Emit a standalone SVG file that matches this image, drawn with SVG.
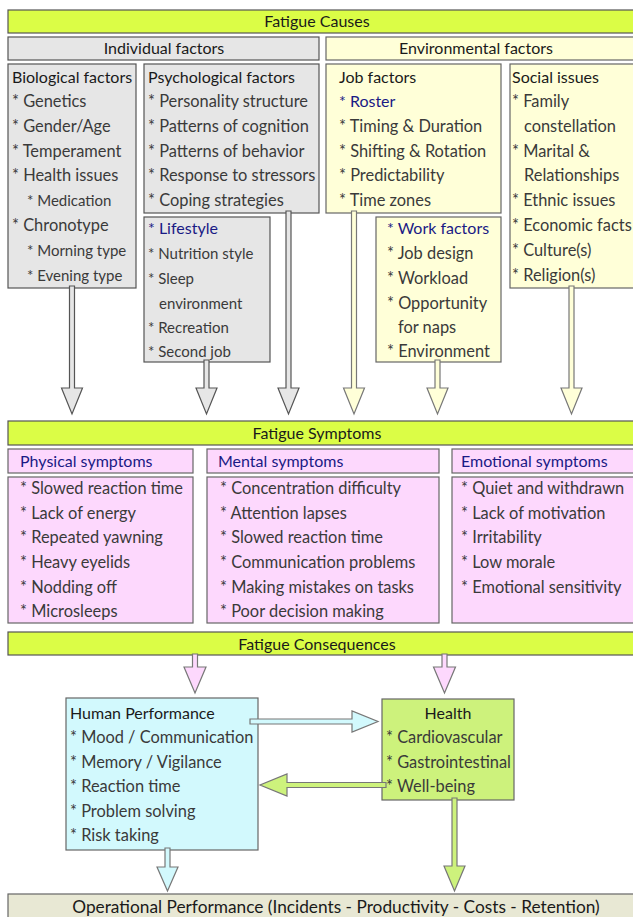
<svg xmlns="http://www.w3.org/2000/svg" width="633" height="917" viewBox="0 0 633 917">
<style>
text{font-family:"Lato","Open Sans",sans-serif;font-size:16.4px;fill:#3a3a3a}
.t{fill:#1a1a1a;font-size:16px}
.c{text-anchor:middle;fill:#1a1a1a;font-size:16px}
.s{font-size:15px}
.b{fill:#1a1a85;font-size:16px}
.op{font-size:17.3px}
.bar{fill:#dbfd46;stroke:#555;stroke-width:1.2}
.gray{fill:#e6e6e6;stroke:#555;stroke-width:1.2}
.yel{fill:#ffffd8;stroke:#666;stroke-width:1.2}
.pink{fill:#fdd8fd;stroke:#666;stroke-width:1.2}
.cyan{fill:#d2f9fd;stroke:#666;stroke-width:1.2}
.green{fill:#cdf27c;stroke:#666;stroke-width:1.2}
.beige{fill:#e8e8d4;stroke:#666;stroke-width:1.2}
.ag{fill:#e6e6e6;stroke:#555;stroke-width:1.2}
.ay{fill:#ffffd8;stroke:#777;stroke-width:1.2}
.ap{fill:#fdd8fd;stroke:#777;stroke-width:1.2}
.ac{fill:#d2f9fd;stroke:#777;stroke-width:1.2}
.an{fill:#cdf27c;stroke:#777;stroke-width:1.2}
</style>
<rect width="633" height="917" fill="#fff"/>

<g id="fatigue-causes">
<rect class="bar" x="8" y="10" width="640" height="23"/>
<text class="c" x="317" y="27">Fatigue Causes</text>
</g>
<g id="individual-factors">
<rect class="gray" x="8" y="37" width="311" height="23"/>
<text class="c" x="164" y="54">Individual factors</text>
</g>
<g id="environmental-factors">
<rect class="yel" x="326" y="37" width="320" height="23"/>
<text class="c" x="476" y="54">Environmental factors</text>
</g>

<g id="biological-factors">
<rect class="gray" x="8" y="64" width="128" height="224"/>
<text class="t" x="12" y="83">Biological factors</text>
<text x="12" y="107">* Genetics</text>
<text x="12" y="132">* Gender/Age</text>
<text x="12" y="157">* Temperament</text>
<text x="12" y="181">* Health issues</text>
<text class="s" x="27" y="206">* Medication</text>
<text x="12" y="231">* Chronotype</text>
<text class="s" x="27" y="256">* Morning type</text>
<text class="s" x="27" y="281">* Evening type</text>
</g>

<g id="psychological-factors">
<rect class="gray" x="144" y="64" width="175" height="149"/>
<text class="t" x="148" y="83">Psychological factors</text>
<text x="148" y="107">* Personality structure</text>
<text x="148" y="132">* Patterns of cognition</text>
<text x="148" y="157">* Patterns of behavior</text>
<text x="148" y="181">* Response to stressors</text>
<text x="148" y="206">* Coping strategies</text>
</g>

<g id="lifestyle">
<rect class="gray" x="144" y="217" width="126" height="145"/>
<text class="b" x="148" y="234">* Lifestyle</text>
<text class="s" x="148" y="259">* Nutrition style</text>
<text class="s" x="148" y="284">* Sleep</text>
<text class="s" x="159" y="309">environment</text>
<text class="s" x="148" y="333">* Recreation</text>
<text class="s" x="148" y="357">* Second job</text>
</g>

<g id="job-factors">
<rect class="yel" x="326" y="64" width="175" height="149"/>
<text class="t" x="339" y="83">Job factors</text>
<text class="b" x="339" y="107">* Roster</text>
<text x="339" y="132">* Timing &amp; Duration</text>
<text x="339" y="157">* Shifting &amp; Rotation</text>
<text x="339" y="181">* Predictability</text>
<text x="339" y="206">* Time zones</text>
</g>

<g id="work-factors">
<rect class="yel" x="376" y="217" width="125" height="145"/>
<text class="b" x="387" y="234">* Work factors</text>
<text x="387" y="259">* Job design</text>
<text x="387" y="284">* Workload</text>
<text x="387" y="309">* Opportunity</text>
<text x="398" y="333">for naps</text>
<text x="387" y="357">* Environment</text>
</g>

<g id="social-issues">
<rect class="yel" x="510" y="64" width="140" height="224"/>
<text class="t" x="512" y="83">Social issues</text>
<text x="512" y="107">* Family</text>
<text x="524" y="132">constellation</text>
<text x="512" y="157">* Marital &amp;</text>
<text x="524" y="181">Relationships</text>
<text x="512" y="206">* Ethnic issues</text>
<text x="512" y="231">* Economic facts</text>
<text x="512" y="256">* Culture(s)</text>
<text x="512" y="281">* Religion(s)</text>
</g>

<g id="fatigue-symptoms">
<rect class="bar" x="8" y="421" width="640" height="24"/>
<text class="c" x="317" y="439">Fatigue Symptoms</text>
</g>

<g id="physical-symptoms">
<rect class="pink" x="8" y="449" width="185" height="24"/>
<text class="b" x="20" y="467">Physical symptoms</text>
<rect class="pink" x="8" y="477" width="185" height="146"/>
<text x="20" y="494">* Slowed reaction time</text>
<text x="20" y="519">* Lack of energy</text>
<text x="20" y="543">* Repeated yawning</text>
<text x="20" y="568">* Heavy eyelids</text>
<text x="20" y="593">* Nodding off</text>
<text x="20" y="617">* Microsleeps</text>
</g>

<g id="mental-symptoms">
<rect class="pink" x="207" y="449" width="232" height="24"/>
<text class="b" x="218" y="467">Mental symptoms</text>
<rect class="pink" x="207" y="477" width="232" height="146"/>
<text x="220" y="494">* Concentration difficulty</text>
<text x="220" y="519">* Attention lapses</text>
<text x="220" y="543">* Slowed reaction time</text>
<text x="220" y="568">* Communication problems</text>
<text x="220" y="593">* Making mistakes on tasks</text>
<text x="220" y="617">* Poor decision making</text>
</g>

<g id="emotional-symptoms">
<rect class="pink" x="452" y="449" width="196" height="24"/>
<text class="b" x="461" y="467">Emotional symptoms</text>
<rect class="pink" x="452" y="477" width="196" height="146"/>
<text x="461" y="494">* Quiet and withdrawn</text>
<text x="461" y="519">* Lack of motivation</text>
<text x="461" y="543">* Irritability</text>
<text x="461" y="568">* Low morale</text>
<text x="461" y="593">* Emotional sensitivity</text>
</g>

<g id="fatigue-consequences">
<rect class="bar" x="8" y="632" width="640" height="23"/>
<text class="c" x="317" y="650">Fatigue Consequences</text>
</g>

<g id="human-performance">
<rect class="cyan" x="66" y="698" width="192" height="152"/>
<text class="t" x="70" y="719">Human Performance</text>
<text x="70" y="743">* Mood / Communication</text>
<text x="70" y="768">* Memory / Vigilance</text>
<text x="70" y="792">* Reaction time</text>
<text x="70" y="817">* Problem solving</text>
<text x="70" y="841">* Risk taking</text>
</g>

<g id="health">
<rect class="green" x="382" y="699" width="132" height="101"/>
<text class="c" x="448" y="719">Health</text>
<text x="386" y="743">* Cardiovascular</text>
<text x="386" y="768">* Gastrointestinal</text>
<text x="386" y="792">* Well-being</text>
</g>

<g id="operational-performance">
<rect class="beige" x="8" y="894" width="640" height="30"/>
<text class="c op" x="336" y="913">Operational Performance (Incidents - Productivity - Costs - Retention)</text>
</g>

<g id="connectors">
<path class="ag" d="M69.5,286 H74.5 V388 H82.5 L72,414 L61.5,388 H69.5 Z"/>
<path class="ag" d="M204,360 H209 V388 H217 L206.5,414 L196,388 H204 Z"/>
<path class="ag" d="M286,211 H291 V388 H299 L288.5,414 L278,388 H286 Z"/>
<path class="ay" d="M351.5,211 H356.5 V388 H364.5 L354,414 L343.5,388 H351.5 Z"/>
<path class="ay" d="M435,360 H440 V388 H448 L437.5,414 L427,388 H435 Z"/>
<path class="ay" d="M569,286 H574 V388 H582 L571.5,414 L561,388 H569 Z"/>
<path class="ap" d="M192.5,654 H197.5 V667 H206 L195,693 L184,667 H192.5 Z"/>
<path class="ap" d="M442,654 H447 V667 H455.5 L444.5,693 L433.5,667 H442 Z"/>
<path class="ac" d="M250,719 V724 H352 V732 L378,721.5 L352,711 V719 Z"/>
<path class="an" d="M386,782.5 V787.5 H287 V796 L260,785 L287,774 V782.5 Z"/>
<path class="ac" d="M165,848 H170 V867 H178 L167.5,891 L157,867 H165 Z"/>
<path class="an" d="M452,798 H457 V866 H465 L454.5,891 L444,866 H452 Z"/>
</g>
</svg>
